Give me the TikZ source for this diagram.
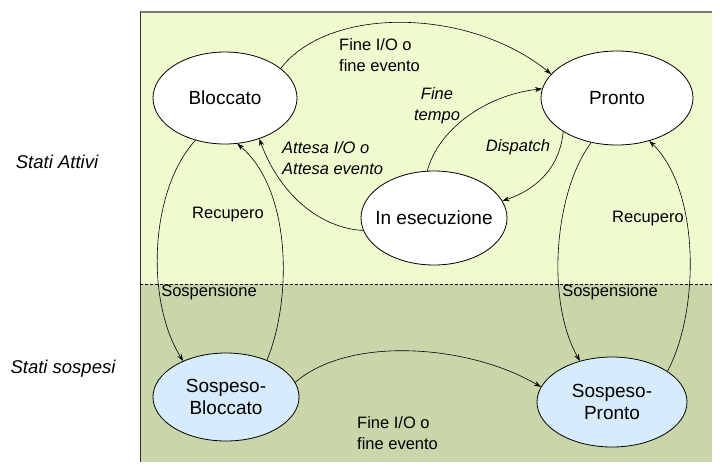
\documentclass[tikz,border=0pt]{standalone}
\usepackage{fontspec}
\setmainfont{Liberation Sans}
\usetikzlibrary{shapes.geometric,arrows.meta}
\definecolor{topg}{RGB}{239,250,206}
\definecolor{botg}{RGB}{200,214,170}
\definecolor{nblue}{RGB}{214,236,252}
\definecolor{frameg}{RGB}{120,120,120}
\begin{document}
\begin{tikzpicture}[x=1pt,y=-1pt,
  state/.style={ellipse, draw=black, line width=0.8pt, inner sep=0pt, align=center,
    font=\fontsize{19}{22}\selectfont},
  lab/.style={font=\fontsize{16.5}{21}\selectfont, inner sep=0pt, align=left},
  ilab/.style={font=\fontsize{16.5}{21}\selectfont\itshape, inner sep=0pt, align=left},
  side/.style={font=\fontsize{18.5}{22}\selectfont\itshape, inner sep=0pt},
  arr/.style={-{Stealth[length=7pt,width=5pt]}, line width=0.6pt}]
\useasboundingbox (0,0) rectangle (720,469);
% regions
\fill[topg] (140,12) rectangle (712,284);
\fill[botg] (140,284) rectangle (712,462);
\draw[frameg, line width=1.2pt] (140,12) -- (712,12);
\draw[black!80, line width=0.8pt] (140,12) -- (140,462);
\draw[black, line width=0.6pt, dash pattern=on 3pt off 2pt] (140,284) -- (712,284);
% states
\node[state, fill=white, minimum width=144, minimum height=92] (bl) at (225,98) {\makebox[0pt]{Bloccato}};
\node[state, fill=white, minimum width=152, minimum height=94] (pr) at (617,98) {\makebox[0pt]{Pronto}};
\node[state, fill=white, minimum width=146, minimum height=94] (ie) at (434,218) {\makebox[0pt]{In esecuzione}};
\node[state, fill=nblue, minimum width=146, minimum height=88] (sb) at (226,397) {Sospeso-\\Bloccato};
\node[state, fill=nblue, minimum width=150, minimum height=90] (sp) at (612,402) {Sospeso-\\Pronto};
% transitions
\draw[arr] (bl.28) .. controls (330,5) and (470,8) .. (pr.160);
\draw[arr] (ie.98) .. controls (438,130) and (485,95) .. (pr.173);
\draw[arr] (pr.212) .. controls (560,165) and (540,188) .. (ie.14);
\draw[arr] (ie.190) .. controls (320,228) and (280,195) .. (bl.310);
\draw[arr] (bl.235) .. controls (150,190) and (145,300) .. (sb.140);
\draw[arr] (sb.42) .. controls (292,300) and (292,190) .. (bl.285);
\draw[arr] (sb.12) .. controls (350,335) and (470,345) .. (sp.168);
\draw[arr] (pr.240) .. controls (555,190) and (545,300) .. (sp.128);
\draw[arr] (sp.29) .. controls (700,310) and (700,190) .. (pr.307);
% labels
\node[lab, anchor=west] (l1) at (339,55.5) {Fine I/O o\\fine evento};
\node[ilab, align=center] (l2) at (437,106) {Fine\\tempo};
\node[ilab, anchor=west] (l3) at (282,158.5) {Attesa I/O o\\Attesa evento};
\node[ilab] (l4) at (518,147) {Dispatch};
\node[lab] (l5) at (228,215) {Recupero};
\node[lab] (l6) at (648,219) {Recupero};
\node[lab] (l7) at (209,292) {Sospensione};
\node[lab] (l8) at (610,292) {Sospensione};
\node[lab, anchor=west] (l9) at (357,433) {Fine I/O o\\fine evento};
\node[side] (s1) at (57,162) {Stati Attivi};
\node[side] (s2) at (63,369) {Stati sospesi};
\end{tikzpicture}
\end{document}
